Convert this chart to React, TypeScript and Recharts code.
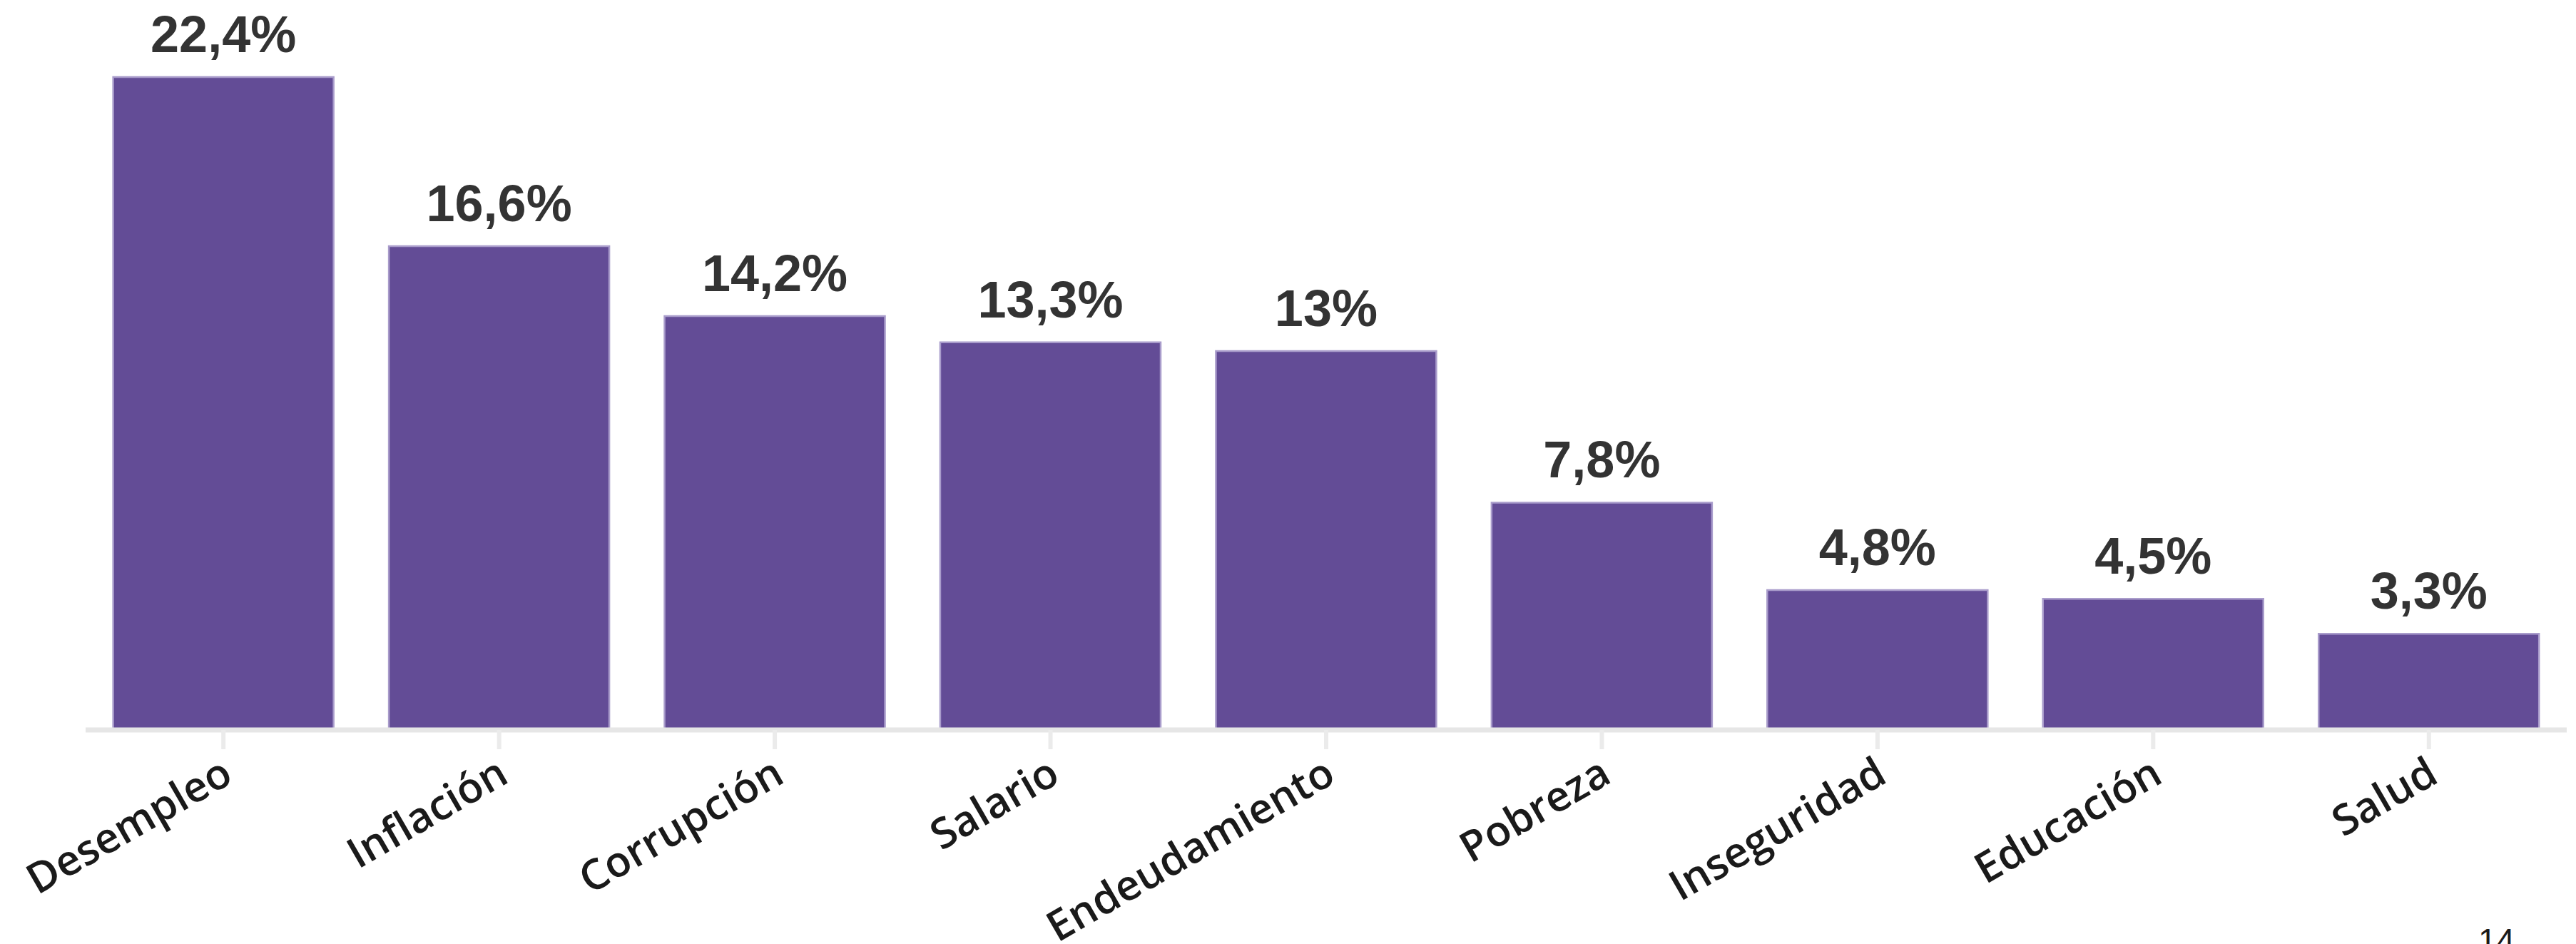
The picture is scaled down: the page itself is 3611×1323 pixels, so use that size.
import React from 'react';
import { BarChart, Bar, XAxis, YAxis, LabelList } from 'recharts';

const categories = ['Desempleo', 'Inflación', 'Corrupción', 'Salario', 'Endeudamiento', 'Pobreza', 'Inseguridad', 'Educación', 'Salud'];
const values = [22.4, 16.6, 14.2, 13.3, 13, 7.8, 4.8, 4.5, 3.3];
const pageNumber = '14';

const data = categories.map((name, i) => ({ name, value: values[i] }));

const fmt = (v: any) => `${String(v).replace('.', ',')}%`;

const Tick = (props: any) => {
  const { x, y, payload } = props;
  const ax = x + 16;
  const ay = y + 45;
  return (
    <text
      x={ax}
      y={ay}
      textAnchor="end"
      transform={`rotate(-30, ${ax}, ${ay})`}
      fontFamily="'Open Sans', sans-serif"
      fontSize={59}
      fontWeight={600}
      fill="#1a1a1a"
    >
      {payload.value}
    </text>
  );
};

export default function App() {
  return (
    <div style={{ position: 'relative', width: 3611, height: 1323, background: '#fff' }}>
      <style>{'html,body{margin:0;padding:0;overflow:hidden;background:#fff}'}</style>
      <BarChart
        width={3611}
        height={1323}
        data={data}
        margin={{ top: 108, right: 13, left: 120, bottom: 0 }}
        barCategoryGap="10%"
      >
        <YAxis hide domain={[0, 'dataMax']} />
        <XAxis
          dataKey="name"
          height={300}
          interval={0}
          tickSize={27}
          tickMargin={0}
          axisLine={{ stroke: '#e6e6e6', strokeWidth: 7 }}
          tickLine={{ stroke: '#ebebeb', strokeWidth: 6 }}
          tick={<Tick />}
        />
        <Bar dataKey="value" fill="#634c96" stroke="#a99ccb" strokeWidth={2.5} isAnimationActive={false}>
          <LabelList
            dataKey="value"
            position="top"
            offset={35}
            formatter={fmt}
            fill="#333333"
            fontSize={72}
            fontWeight={700}
            fontFamily="'Liberation Sans', Arial, sans-serif"
          />
        </Bar>
      </BarChart>
      <svg style={{ position: 'absolute', left: 3440, top: 1270 }} width={171} height={53}>
        <text x={34} y={64} fontFamily="'Liberation Sans', Arial, sans-serif" fontSize={46} fill="#1a1a1a">
          {pageNumber}
        </text>
      </svg>
    </div>
  );
}
